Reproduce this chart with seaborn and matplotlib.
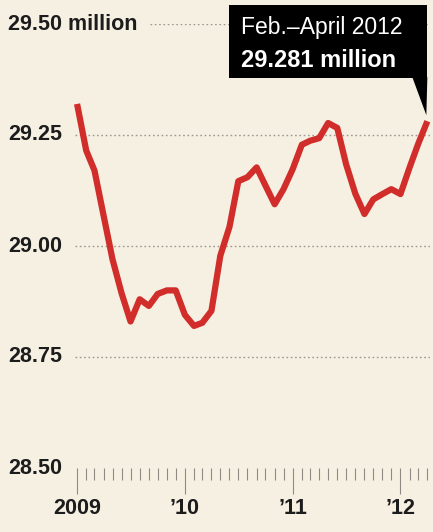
import pandas as pd
import matplotlib
matplotlib.use("Agg")
import matplotlib.pyplot as plt
import matplotlib.dates as mdates
from matplotlib.patches import Polygon, Rectangle
from matplotlib.transforms import IdentityTransform, blended_transform_factory
import seaborn as sns

# Monthly readings (three-month averages), January 2009 through April 2012
months = pd.period_range("2009-01", "2012-04", freq="M").to_timestamp()
workers = [29.32, 29.215, 29.17, 29.068, 28.97, 28.893, 28.83, 28.88, 28.865, 28.892,
           28.90, 28.90, 28.845, 28.82, 28.827, 28.854, 28.978, 29.043, 29.146, 29.155,
           29.177, 29.136, 29.094, 29.128, 29.173, 29.228, 29.237, 29.243, 29.277, 29.266,
           29.184, 29.118, 29.072, 29.105, 29.117, 29.128, 29.117, 29.177, 29.23, 29.281]

y_ticks = [28.50, 28.75, 29.00, 29.25, 29.50]
y_labels = ["28.50", "28.75", "29.00", "29.25", "29.50 million"]
x_years = pd.to_datetime(["2009-01-01", "2010-01-01", "2011-01-01", "2012-01-01"])
x_labels = ["2009", "\u201910", "\u201911", "\u201912"]
callout_period = "Feb.\u2013April 2012"
callout_value = "29.281 million"

BG = "#F6F0E3"
RED = "#D12E2B"
INK = "#1C1C1C"
GRID = "#9C9890"
TICK = "#8E8A84"

sns.set_theme(style="white")
plt.rcParams["font.family"] = ["Liberation Sans", "DejaVu Sans"]

df = pd.DataFrame({"month": months, "workers": workers})

W, H, DPI = 433, 532, 100
fig = plt.figure(figsize=(W / DPI, H / DPI), dpi=DPI, facecolor=BG)
ax = fig.add_axes([75 / W, 64 / H, 355 / W, 444 / H], facecolor=BG)

sns.lineplot(data=df, x="month", y="workers", ax=ax, color=RED, linewidth=4.5,
             solid_joinstyle="round", solid_capstyle="butt", clip_on=False, zorder=3)

ax.set_ylim(y_ticks[0], y_ticks[-1])
ax.set_xlim(pd.Timestamp("2008-12-25"), pd.Timestamp("2012-04-10"))
ax.set_xlabel("")
ax.set_ylabel("")
for s in ax.spines.values():
    s.set_visible(False)

# dotted horizontal guides
dots = (0, (1.2, 1.9))
for v in y_ticks[1:-1]:
    ax.axhline(v, color=GRID, lw=1.0, ls=dots, zorder=1)
ax.axhline(y_ticks[-1], xmin=0.21, xmax=1.0, color=GRID, lw=1.0, ls=dots, zorder=1)

# y labels, left aligned at the figure edge
ax.set_yticks([])
ytr = blended_transform_factory(fig.transFigure, ax.transData)
for v, lab in zip(y_ticks, y_labels):
    ax.text(8 / W, v, lab, transform=ytr, ha="left", va="center",
            fontsize=15.5, fontweight="bold", color=INK)

# month ticks below the chart, years labelled
ax.set_xticks(mdates.date2num(x_years))
ax.set_xticklabels(x_labels)
ax.xaxis.set_minor_locator(mdates.MonthLocator())
ax.tick_params(axis="x", which="both", bottom=True, top=False, direction="out")
ax.tick_params(axis="x", which="major", length=18.5, width=0.8,
               color=TICK, pad=3, labelsize=15.5, labelcolor=INK)
ax.tick_params(axis="x", which="minor", length=8.5, width=0.8, color=TICK)
for t in ax.get_xticklabels():
    t.set_fontweight("bold")

# callout box pointing at the latest reading
last_x = df["month"].iloc[-1]
last_y = df["workers"].iloc[-1]
px, py = ax.transData.transform((mdates.date2num(last_x), last_y))
ident = IdentityTransform()
box = Rectangle((px - 198, py + 43), 198, 73, transform=ident,
                facecolor="black", edgecolor="none", zorder=5, clip_on=False)
fig.add_artist(box)
tip = Polygon([(px - 15, py + 44), (px, py + 44), (px - 1, py + 6)], closed=True,
              transform=ident, facecolor="black", edgecolor="none", zorder=5, clip_on=False)
fig.add_artist(tip)
fig.text(px - 186, py + 94, callout_period, transform=ident, ha="left", va="center",
         fontsize=16.5, color="white", zorder=6)
fig.text(px - 186, py + 61, callout_value, transform=ident, ha="left", va="center",
         fontsize=17, fontweight="bold", color="white", zorder=6)

fig.savefig("out.png", dpi=DPI, facecolor=BG)
